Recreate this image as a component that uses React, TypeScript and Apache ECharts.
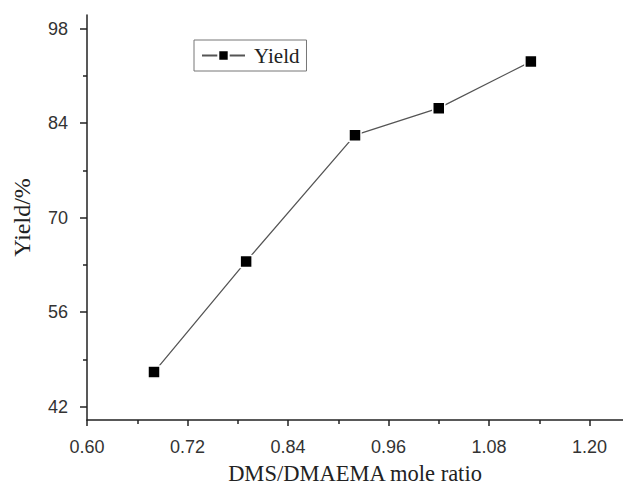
import React, { useEffect, useRef } from "react";
import * as echarts from "echarts";

const ratio = [0.68, 0.79, 0.92, 1.02, 1.13];
const yieldPct = [47.1, 63.5, 82.2, 86.2, 93.1];
const xMajorTicks = [0.6, 0.72, 0.84, 0.96, 1.08, 1.2];
const xMinorTicks = [0.66, 0.78, 0.9, 1.02, 1.14];
const yMajorTicks = [42, 56, 70, 84, 98];
const yMinorTicks = [49, 63, 77, 91];

const SANS = "Liberation Sans, Arial, sans-serif";
const SERIF = "Liberation Serif, Times New Roman, serif";
const AXIS = "#222";

export default function App() {
  const ref = useRef<HTMLDivElement>(null);
  useEffect(() => {
    if (!ref.current) return;
    const chart = echarts.init(ref.current, null, { renderer: "svg" });
    chart.setOption({
      animation: false,
      backgroundColor: "#fff",
      grid: { left: 87, right: 0, top: 15, bottom: 67, containLabel: false, outerBoundsMode: "none" },
      legend: {
        show: true,
        left: 194,
        top: 40,
        orient: "horizontal",
        borderColor: "#777",
        borderWidth: 1,
        padding: [5, 7],
        itemWidth: 43,
        itemHeight: 13,
        textStyle: { fontFamily: SERIF, fontSize: 21, color: "#222", padding: [0, 0, 0, 4] },
        data: ["Yield"],
      },
      xAxis: [
        {
          type: "value",
          min: 0.6,
          max: 1.24,
          position: "bottom",
          name: "DMS/DMAEMA mole ratio",
          nameLocation: "middle",
          nameGap: 44,
          nameTextStyle: { fontFamily: SERIF, fontSize: 22.5, lineHeight: 18, color: "#222" },
          axisLine: { show: true, lineStyle: { color: AXIS, width: 1.5 } },
          axisTick: { show: true, customValues: xMajorTicks, length: 6, lineStyle: { color: AXIS, width: 1.5 } },
          axisLabel: {
            show: true,
            customValues: xMajorTicks,
            formatter: (v: number) => v.toFixed(2),
            fontFamily: SANS,
            fontSize: 18,
            color: "#333",
            margin: 18,
          },
          splitLine: { show: false },
        },
        {
          type: "value",
          min: 0.6,
          max: 1.24,
          position: "bottom",
          axisLine: { show: false },
          axisTick: { show: true, customValues: xMinorTicks, length: 4, lineStyle: { color: AXIS, width: 1.5 } },
          axisLabel: { show: false },
          splitLine: { show: false },
        },
      ],
      yAxis: [
        {
          type: "value",
          min: 40,
          max: 100,
          position: "left",
          name: "Yield/%",
          nameLocation: "middle",
          nameGap: 53,
          nameTextStyle: { fontFamily: SERIF, fontSize: 24, color: "#222" },
          axisLine: { show: true, lineStyle: { color: AXIS, width: 1.5 } },
          axisTick: { show: true, customValues: yMajorTicks, length: 7, lineStyle: { color: AXIS, width: 1.5 } },
          axisLabel: {
            show: true,
            customValues: yMajorTicks,
            fontFamily: SANS,
            fontSize: 18,
            color: "#333",
            margin: 19,
          },
          splitLine: { show: false },
        },
        {
          type: "value",
          min: 40,
          max: 100,
          position: "left",
          axisLine: { show: false },
          axisTick: { show: true, customValues: yMinorTicks, length: 4, lineStyle: { color: AXIS, width: 1.5 } },
          axisLabel: { show: false },
          splitLine: { show: false },
        },
      ],
      series: [
        {
          name: "Yield",
          type: "line",
          xAxisIndex: 0,
          yAxisIndex: 0,
          data: ratio.map((x, i) => [x, yieldPct[i]]),
          symbol: "rect",
          symbolSize: 12,
          showSymbol: true,
          lineStyle: { color: "#555", width: 1.3 },
          itemStyle: { color: "#000", borderColor: "#fff", borderWidth: 1.5 },
        },
      ],
    });
    return () => chart.dispose();
  }, []);
  return (
    <div
      ref={ref}
      style={{ position: "fixed", left: 0, top: 0, width: 623, height: 487, background: "#fff" }}
    />
  );
}
